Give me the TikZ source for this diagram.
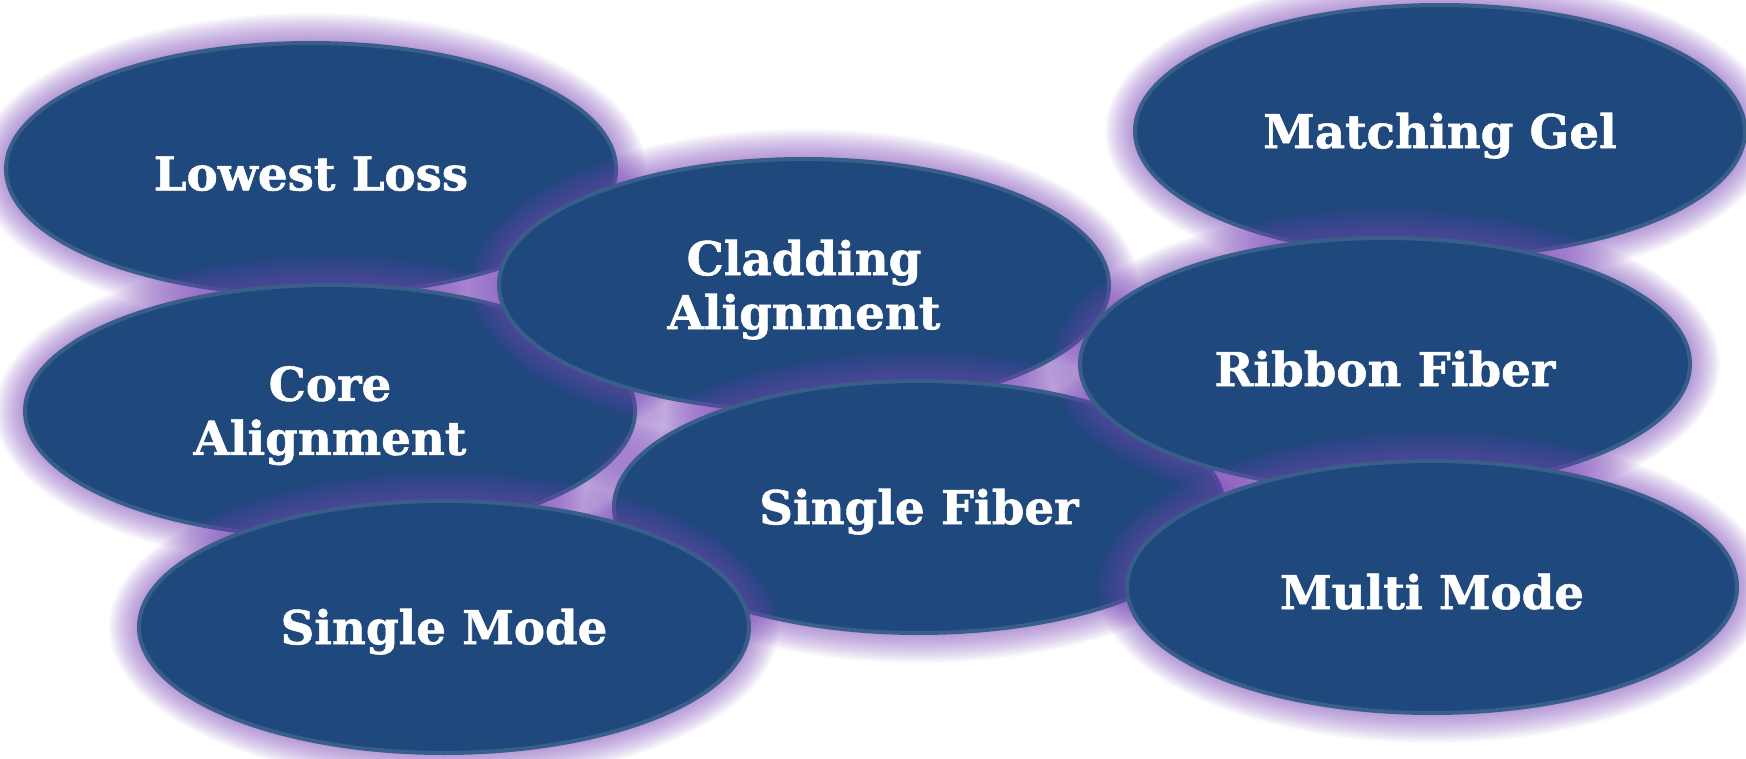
\documentclass[tikz,border=0pt]{standalone}
\usepackage{fontspec}
\setmainfont{DejaVu Serif}[BoldFeatures={FakeBold=1.2}]
\usetikzlibrary{shapes.geometric}
\definecolor{bfill}{RGB}{31,73,125}
\definecolor{bline}{RGB}{57,94,138}
\definecolor{glowc}{RGB}{125,70,190}
\tikzset{
  bubble/.style={ellipse, draw=bline, line width=3pt, fill=bfill,
    minimum width=457.5pt, minimum height=189pt, inner sep=0pt},
  btext/.style={text=white, font=\fontsize{35}{40.5}\selectfont\bfseries,
    align=center, yshift=-3.5pt, inner sep=0pt},
  glowlayer/.style={fill=glowc, opacity=0.036}
}
\newcommand\glowat[2]{%
  \foreach \d in {1.5,3,...,30}{\fill[glowlayer] (#1,#2) ellipse [x radius=305+\d, y radius=126+\d];}}
\begin{document}
\begin{tikzpicture}[x=0.75pt,y=-0.75pt]
\fill[white] (0,0) rectangle (1746,759);
\useasboundingbox (0,0) rectangle (1746,759);
\glowat{311}{169}
\node[bubble, label={[btext]center:Lowest Loss}] (lowest) at (311,169) {};
\glowat{1440}{131}
\node[bubble, label={[btext]center:Matching Gel}] (gel) at (1440,131) {};
\glowat{330}{411}
\node[bubble, label={[btext]center:Core\\Alignment}] (core) at (330,411) {};
\glowat{804}{285}
\node[bubble, label={[btext]center:Cladding\\Alignment}] (cladding) at (804,285) {};
\glowat{919}{507}
\node[bubble, label={[btext]center:Single Fiber}] (sfiber) at (919,507) {};
\glowat{444}{627}
\node[bubble, label={[btext]center:Single Mode}] (smode) at (444,627) {};
\glowat{1385}{364}
\node[bubble, label={[btext]center:Ribbon Fiber}] (ribbon) at (1385,364) {};
\glowat{1432}{587}
\node[bubble, label={[btext]center:Multi Mode}] (mmode) at (1432,587) {};
\end{tikzpicture}
\end{document}
